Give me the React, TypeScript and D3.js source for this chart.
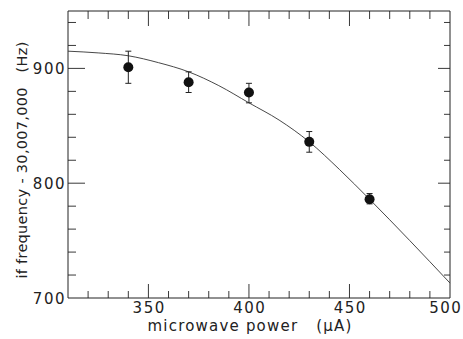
import React, { Component } from 'react'
import * as d3 from 'd3'

// measured points with error bars
const powers = [340, 370, 400, 430, 460]
const freqs = [901, 888, 879, 836, 786]
const errHigh = [915, 897, 887, 845, 791]
const errLow = [887, 879, 870, 827, 782]

// fitted curve
const curvePowers = [310, 325, 340, 355, 370, 385, 400, 415, 430, 445, 460, 480, 500]
const curveFreqs = [915, 913.5, 911, 905, 897, 885, 870, 855, 836, 812, 786, 750, 713]

const xTickLabels = ['350', '400', '450', '500']
const yTickLabels = ['700', '800', '900']

const W = 463
const H = 339
const margin = { top: 11, right: 13, bottom: 41, left: 68 }

class Chart extends Component {
  node: SVGSVGElement | null = null

  componentDidMount() {
    this.createChart()
  }

  componentDidUpdate() {
    d3.select(this.node).selectAll('*').remove()
    this.createChart()
  }

  createChart = () => {
    const svg = d3.select(this.node)
    const ink = '#222'
    const font = 'DejaVu Sans, sans-serif'

    const x = d3.scaleLinear().domain([310, 500]).range([margin.left, W - margin.right])
    const y = d3.scaleLinear().domain([700, 950]).range([H - margin.bottom, margin.top])

    const x0 = x.range()[0], x1 = x.range()[1]
    const y0 = y.range()[0], y1 = y.range()[1]

    const frame = svg.append('g').attr('stroke', ink).attr('stroke-width', 1).attr('fill', 'none')
    frame.append('line').attr('x1', x0).attr('x2', x0).attr('y1', y0).attr('y2', y1)
    frame.append('line').attr('x1', x1).attr('x2', x1).attr('y1', y0).attr('y2', y1)
    frame.append('line').attr('x1', x0).attr('x2', x1).attr('y1', y0).attr('y2', y0)
    frame.append('line').attr('x1', x0).attr('x2', x1).attr('y1', y1).attr('y2', y1)

    const xMajor = xTickLabels.map(Number)
    const yMajor = yTickLabels.map(Number)
    const xTicks = x.ticks(20).filter(v => v > 310 && v < 500)
    const yTicks = y.ticks(13).filter(v => v > 700 && v < 950)

    const ticks = svg.append('g').attr('stroke', ink).attr('stroke-width', 0.9)
    xTicks.forEach(v => {
      const big = xMajor.indexOf(v) >= 0
      ticks.append('line').attr('x1', x(v)).attr('x2', x(v))
        .attr('y1', y0).attr('y2', y0 - (big ? 14 : 7))
      ticks.append('line').attr('x1', x(v)).attr('x2', x(v))
        .attr('y1', y1).attr('y2', y1 + (big ? 15 : 8))
    })
    yTicks.forEach(v => {
      const big = yMajor.indexOf(v) >= 0
      ticks.append('line').attr('x1', x0).attr('x2', x0 + (big ? 17 : 8))
        .attr('y1', y(v)).attr('y2', y(v))
      ticks.append('line').attr('x1', x1).attr('x2', x1 - (big ? 12 : 6))
        .attr('y1', y(v)).attr('y2', y(v))
    })

    // last label is pushed in a bit so it stays on the page, as in the original
    svg.append('g').selectAll('text').data(xTickLabels).enter().append('text')
      .attr('x', d => Math.min(x(+d), W - 18) + 0.75).attr('y', y0 + 15)
      .attr('text-anchor', 'middle')
      .attr('font-family', font).attr('font-size', 15).attr('fill', ink)
      .attr('letter-spacing', 1.5)
      .text(d => d)

    svg.append('g').selectAll('text').data(yTickLabels).enter().append('text')
      .attr('x', x0 - 2).attr('y', d => y(+d) + 5.5)
      .attr('text-anchor', 'end')
      .attr('font-family', font).attr('font-size', 15).attr('fill', ink)
      .attr('letter-spacing', 1.5)
      .text(d => d)

    svg.append('text')
      .attr('x', 250).attr('y', 331)
      .attr('text-anchor', 'middle')
      .attr('font-family', font).attr('font-size', 15).attr('fill', ink)
      .attr('letter-spacing', 1.2)
      .style('white-space', 'pre')
      .text('microwave power   (\u03bcA)')

    svg.append('text')
      .attr('transform', 'translate(27,' + 160 + ') rotate(-90)')
      .attr('text-anchor', 'middle')
      .attr('font-family', font).attr('font-size', 14.5).attr('fill', ink)
      .attr('letter-spacing', 0.3)
      .style('white-space', 'pre')
      .text('if frequency - 30,007,000   (Hz)')

    const curve = d3.line<number>()
      .x((d, i) => x(curvePowers[i]))
      .y(d => y(d))
      .curve(d3.curveMonotoneX)

    svg.append('path')
      .datum(curveFreqs)
      .attr('d', curve)
      .attr('fill', 'none')
      .attr('stroke', '#333')
      .attr('stroke-width', 0.9)

    const pts = svg.append('g').selectAll('g').data(powers).enter().append('g')

    pts.append('line')
      .attr('x1', d => x(d)).attr('x2', d => x(d))
      .attr('y1', (d, i) => y(errHigh[i])).attr('y2', (d, i) => y(errLow[i]))
      .attr('stroke', ink).attr('stroke-width', 1)
    pts.append('line')
      .attr('x1', d => x(d) - 3).attr('x2', d => x(d) + 3)
      .attr('y1', (d, i) => y(errHigh[i])).attr('y2', (d, i) => y(errHigh[i]))
      .attr('stroke', ink).attr('stroke-width', 1)
    pts.append('line')
      .attr('x1', d => x(d) - 3).attr('x2', d => x(d) + 3)
      .attr('y1', (d, i) => y(errLow[i])).attr('y2', (d, i) => y(errLow[i]))
      .attr('stroke', ink).attr('stroke-width', 1)
    pts.append('circle')
      .attr('cx', d => x(d))
      .attr('cy', (d, i) => y(freqs[i]))
      .attr('r', 5)
      .attr('fill', '#111')
  }

  render() {
    return (
      <svg
        ref={el => { this.node = el }}
        width={W}
        height={H}
        style={{ position: 'absolute', left: 0, top: 0, background: '#fff' }}
      />
    )
  }
}

export default function App() {
  return <Chart />
}
